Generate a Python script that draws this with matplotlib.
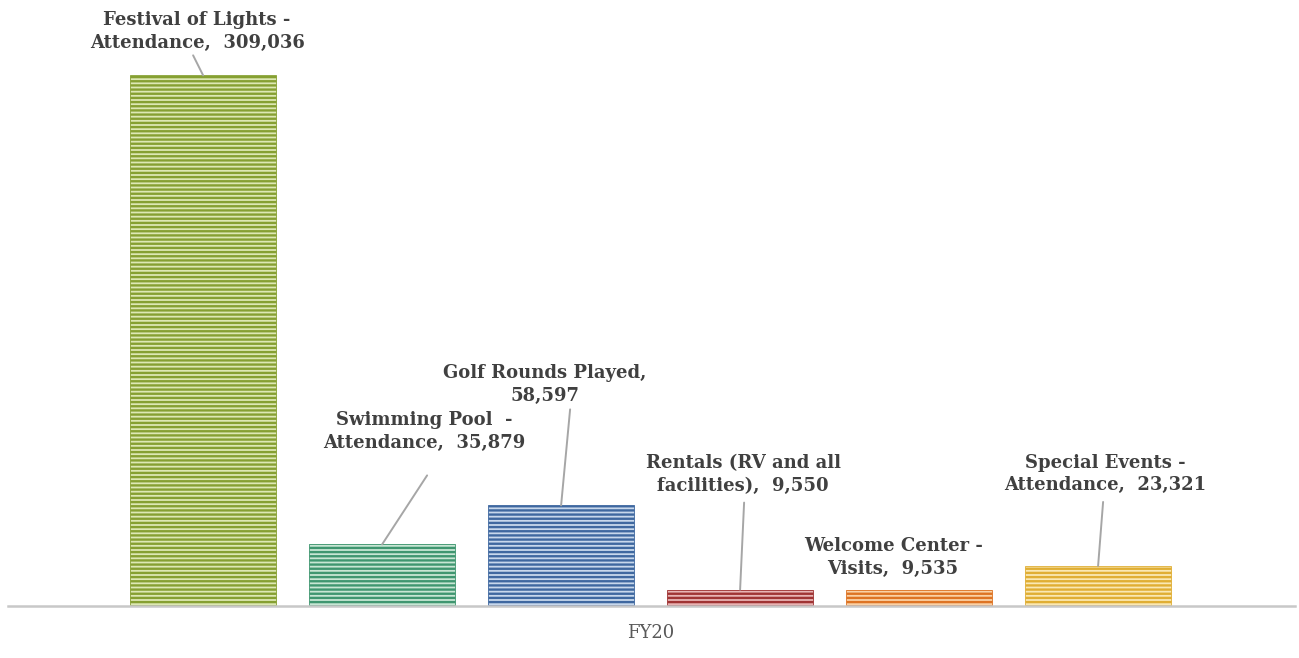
import numpy as np
import matplotlib.pyplot as plt

# ------------------------------------------------------------
# Data
# ------------------------------------------------------------
category = "FY20"
series = [
    "Festival of Lights -\nAttendance",
    "Swimming Pool  -\nAttendance",
    "Golf Rounds Played",
    "Rentals (RV and all\nfacilities)",
    "Welcome Center -\nVisits",
    "Special Events -\nAttendance",
]
values = [309036, 35879, 58597, 9550, 9535, 23321]

# ------------------------------------------------------------
# Styles
# ------------------------------------------------------------
dark = ["#86a032", "#3f9670", "#3f68a0", "#a03434", "#de7424", "#e0ae34"]
light = ["#dde8b4", "#c8e6d4", "#c8d8ec", "#e8b4b4", "#fad2a6", "#fae8b4"]

# label offsets (pixels from bar top), leader end offsets
text_off = [(-6, 44), (42, 113), (-16, 121), (3, 115), (-26, 32), (7, 92)]
lead_off = [(-10, 20), (45, 69), (9, 96), (4, 87), None, (5, 64)]

fig = plt.figure(figsize=(12.99, 6.58), dpi=100)
ax = fig.add_axes([8 / 1299, 52 / 658, 1287 / 1299, 601 / 658])

plt.rcParams["hatch.linewidth"] = 1.7

x = (np.arange(len(values)) - (len(values) - 1) / 2)
for i, (xi, v) in enumerate(zip(x, values)):
    ax.bar(xi, v, width=0.816, color=light[i], edgecolor=dark[i],
           linewidth=0.6, hatch="----")

    if i == 2:
        lbl = f"{series[i]},\n{v:,}"
    else:
        lbl = f"{series[i]},  {v:,}"
    if lead_off[i] is not None:
        ax.annotate("", xy=(xi, v), xytext=lead_off[i], textcoords="offset pixels",
                    arrowprops=dict(arrowstyle="-", color="#a6a6a6", lw=1.4,
                                    shrinkA=0, shrinkB=0))
    ax.annotate(lbl, xy=(xi, v), xytext=text_off[i], textcoords="offset pixels",
                ha="center", va="center", multialignment="center",
                fontsize=13, fontweight="bold", family="DejaVu Serif",
                color="#404040", linespacing=1.35)

ax.set_xlim(-3.59, 3.6)
ax.set_ylim(0, 350000)
ax.set_xticks([0])
ax.set_xticklabels([category], family="DejaVu Serif", fontsize=13, color="#595959")
ax.tick_params(axis="x", length=0, pad=13)
ax.set_yticks([])
for s in ["top", "left", "right"]:
    ax.spines[s].set_visible(False)
ax.spines["bottom"].set_color("#c8c8c8")
ax.spines["bottom"].set_linewidth(1.8)

fig.savefig("out.png", dpi=100)
